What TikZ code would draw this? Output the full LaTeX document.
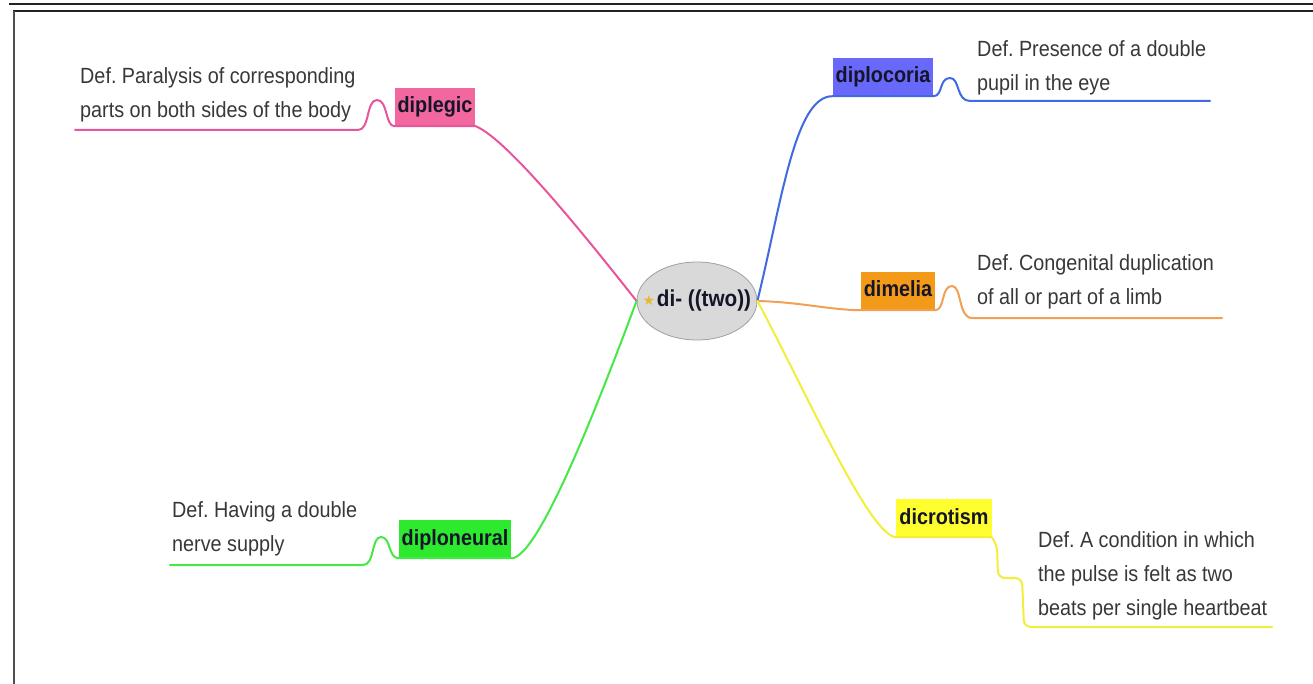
\documentclass[tikz,border=0pt]{standalone}
\usepackage{fontspec}
\setmainfont{Liberation Sans}[FakeStretch=0.9]
\newfontfamily\symfont{DejaVu Sans}
\usetikzlibrary{shapes.geometric}
\frenchspacing

\definecolor{pinkline}{HTML}{E8559A}
\definecolor{pinkfill}{HTML}{F2679E}
\definecolor{blueline}{HTML}{4169E1}
\definecolor{bluefill}{HTML}{6868FA}
\definecolor{orangeline}{HTML}{F2A055}
\definecolor{orangefill}{HTML}{F39A18}
\definecolor{yellowline}{HTML}{F2EE3A}
\definecolor{yellowfill}{HTML}{FFFF30}
\definecolor{greenline}{HTML}{45E845}
\definecolor{greenfill}{HTML}{2EEA2E}
\definecolor{hubfill}{HTML}{D9D9D9}
\definecolor{hubdraw}{HTML}{A0A0A0}
\definecolor{deftextcol}{HTML}{383838}
\definecolor{labeltextcol}{HTML}{15152A}
\definecolor{framecol}{HTML}{222222}
\definecolor{iconcol}{HTML}{E8B830}

\tikzset{
  x=1pt, y=-1pt,
  branch/.style={line width=2pt, line cap=round, line join=round},
  termbox/.style={fill=#1, inner xsep=3pt, inner ysep=0pt, minimum height=38pt,
    text=labeltextcol, font=\bfseries\fontsize{22}{26}\selectfont,
    text height=16pt, text depth=4pt},
  deftext/.style={anchor=south west, inner sep=0pt, align=left, text=deftextcol,
    font=\fontsize{22}{34}\selectfont, text depth=0pt},
  frameline/.style={line width=2.4pt, draw=framecol}
}

\begin{document}
\begin{tikzpicture}
\useasboundingbox (0,0) rectangle (1313,684);
\fill[white] (0,0) rectangle (1313,684);

% page frame
\draw[frameline] (9,4) -- (1313,4);
\draw[frameline, line width=2pt] (13,11.5) -- (1313,11.5);
\draw[frameline, draw=framecol!80] (14,11) -- (14,684);

% central topic
\node[ellipse, fill=hubfill, draw=hubdraw, line width=0.8pt,
      minimum width=120pt, minimum height=78pt] (c) at (697,301) {};
\node[inner sep=0pt, text=labeltextcol, font=\bfseries\fontsize{23}{26}\selectfont] (ct) at (704,301) {di- ((two))};
\node[inner sep=0pt, text=iconcol, font=\symfont\fontsize{14}{14}\selectfont] (icon) at (649,300) {★};

% term boxes
\node[termbox=pinkfill]   (dl) at (435,107) {diplegic};
\node[termbox=bluefill]   (bl) at (883,77)  {diplocoria};
\node[termbox=orangefill] (or) at (898,291) {dimelia};
\node[termbox=yellowfill] (ye) at (944,518) {dicrotism};
\node[termbox=greenfill]  (gr) at (455,539) {diploneural};

% definitions
\node[deftext] (pd) at (80,118)  {Def. Paralysis of corresponding\\parts on both sides of the body};
\node[deftext] (bd) at (977,91)  {Def. Presence of a double\\pupil in the eye};
\node[deftext] (od) at (977,305) {Def. Congenital duplication\\of all or part of a limb};
\node[deftext] (yd) at (1038,616) {Def. A condition in which\\the pulse is felt as two\\beats per single heartbeat};
\node[deftext] (gd) at (172,552) {Def. Having a double\\nerve supply};

% free ends of the underlines
\coordinate (pu) at (75,130);
\coordinate (bu) at (1210,101);
\coordinate (ou) at (1222,318);
\coordinate (yu) at (1272,627);
\coordinate (gu) at (170,565);

% diplegic branch
\draw[branch, pinkline] (c.west) .. controls (600,255) and (510,140) .. (dl.south east)
  -- (dl.south west) .. controls (385,126) and (388,100) .. (377,100)
  .. controls (366,100) and (370,130) .. (358,130) -- (pu);

% diplocoria branch
\draw[branch, blueline] (c.east) .. controls (782,200) and (795,96) .. (bl.south west)
  -- (bl.south east) .. controls (943,96) and (939,78) .. (950,78)
  .. controls (960,78) and (956,101) .. (970,101) -- (bu);

% dimelia branch
\draw[branch, orangeline] (c.east) .. controls (800,302) and (830,310) .. (or.south west)
  -- (or.south east) .. controls (945,310) and (941,286) .. (952,286)
  .. controls (962,286) and (958,318) .. (972,318) -- (ou);

% dicrotism branch
\draw[branch, yellowline] (c.east) .. controls (805,390) and (870,537) .. (ye.south west)
  -- (ye.south east);
\draw[branch, yellowline, rounded corners=7pt] (ye.south east) -- (997,545) -- (998,578)
  -- (1022,578) -- (1024,627) -- (yu);

% diploneural branch
\draw[branch, greenline] (c.west) .. controls (605,385) and (540,558) .. (gr.south east)
  -- (gr.south west) .. controls (388,558) and (391,537) .. (381,537)
  .. controls (371,537) and (375,565) .. (363,565) -- (gu);
\end{tikzpicture}
\end{document}
